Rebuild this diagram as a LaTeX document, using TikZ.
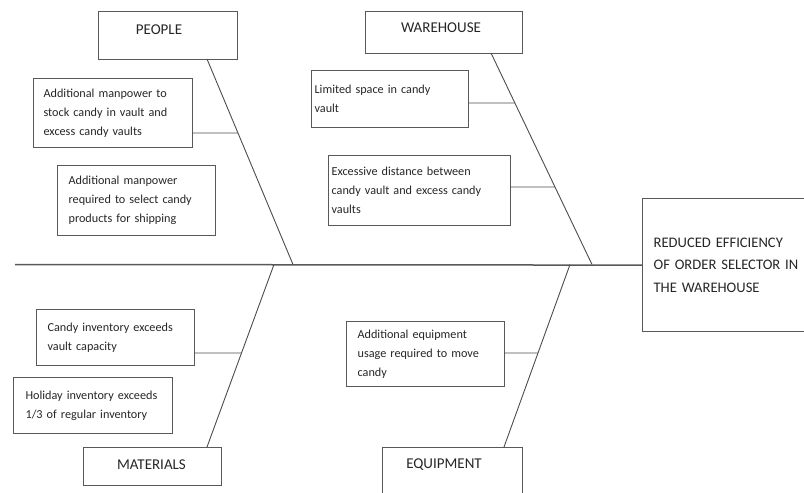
\documentclass[tikz,border=0pt]{standalone}
\usepackage{fontspec}
\setmainfont{Carlito}[WordSpace=0.7]
\usetikzlibrary{calc}
\hyphenpenalty=10000
\hbadness=10000
\hfuzz=30pt
\begin{document}
\begin{tikzpicture}[x=1pt,y=-1pt,
  causebox/.style={draw=black!65, line width=1.2pt, rectangle, anchor=north west, align=left,
    inner ysep=0pt, text=black!85, font=\fontsize{12.2}{19}\selectfont},
  catbox/.style={draw=black!65, line width=1.2pt, rectangle, anchor=north west, inner sep=0pt},
  cattext/.style={text=black!85, font=\fontsize{15}{22.5}\selectfont, inner sep=0pt},
  bone/.style={draw=black!70, line width=0.9pt},
  spine/.style={draw=black!65, line width=1.5pt}]
\path[use as bounding box] (0,0) rectangle (804,493);
\clip (0,0) rectangle (804,493);

% category boxes
\node[catbox, minimum width=139pt, minimum height=48pt] (people) at (98,11) {};
\node[cattext] (peopleT) at (159,30) {PEOPLE};
\node[catbox, minimum width=157pt, minimum height=42pt] (warehouse) at (365,11) {};
\node[cattext] (warehouseT) at (441,28) {WAREHOUSE};
\node[catbox, minimum width=138pt, minimum height=38pt] (materials) at (83,447) {};
\node[cattext] (materialsT) at (151.5,465) {MATERIALS};
\node[catbox, minimum width=140pt, minimum height=60pt] (equipment) at (382,447) {};
\node[cattext] (equipmentT) at (444,465) {EQUIPMENT};

% cause boxes
\node[causebox, text width=139pt, inner xsep=10pt, minimum height=69pt] (p1) at (33,78)
  {Additional manpower to\\stock candy in vault and\\excess candy vaults};
\node[causebox, text width=136pt, inner xsep=11pt, minimum height=70pt] (p2) at (57,165)
  {Additional manpower\\required to select candy\\products for shipping};
\node[causebox, text width=151pt, inner xsep=3pt, minimum height=57pt] (w1) at (311,70)
  {Limited space in candy\\vault};
\node[causebox, text width=176pt, inner xsep=3pt, minimum height=70pt] (w2) at (328,155)
  {Excessive distance between\\candy vault and excess candy\\vaults};
\node[causebox, text width=136pt, inner xsep=11pt, minimum height=56pt] (m1) at (36,309)
  {Candy inventory exceeds\\vault capacity};
\node[causebox, text width=135pt, inner xsep=12pt, minimum height=56pt] (m2) at (13,377)
  {Holiday inventory exceeds\\1/3 of regular inventory};
\node[causebox, text width=136pt, inner xsep=11pt, minimum height=65pt] (e1) at (346,321)
  {Additional equipment\\usage required to move\\candy};

% effect (extends past the right edge)
\node[causebox, text width=200pt, inner xsep=11pt, minimum height=133pt,
  font=\fontsize{14.6}{22.5}\selectfont] (effect) at (642,198)
  {REDUCED EFFICIENCY\\OF ORDER SELECTOR IN\\THE WAREHOUSE};

% spine
\coordinate (tail) at (15,264.5);
\draw[spine] (tail) -- (effect.west);

% bones
\coordinate (pb) at (207,59);  \coordinate (pm) at (293,264.5);
\coordinate (wb) at (491,53);  \coordinate (wm) at (592,264.5);
\coordinate (mb) at (207,447); \coordinate (mm) at (274,264.5);
\coordinate (eb) at (504,447); \coordinate (em) at (570,264.5);
\draw[bone] (pb) -- (pm);
\draw[bone] (wb) -- (wm);
\draw[bone] (mm) -- (mb);
\draw[bone] (em) -- (eb);

% sub connectors
\coordinate (p1a) at (192,133); \coordinate (p1b) at ($(pb)!0.360!(pm)$);
\coordinate (w1a) at (468,103); \coordinate (w1b) at ($(wb)!0.2364!(wm)$);
\coordinate (w2a) at (510,187); \coordinate (w2b) at ($(wb)!0.6336!(wm)$);
\coordinate (m1a) at (194,353); \coordinate (m1b) at ($(mm)!0.485!(mb)$);
\coordinate (e1a) at (504,353); \coordinate (e1b) at ($(em)!0.485!(eb)$);
\draw[bone] (p1a) -- (p1b);
\draw[bone] (w1a) -- (w1b);
\draw[bone] (w2a) -- (w2b);
\draw[bone] (m1a) -- (m1b);
\draw[bone] (e1a) -- (e1b);
\end{tikzpicture}
\end{document}
